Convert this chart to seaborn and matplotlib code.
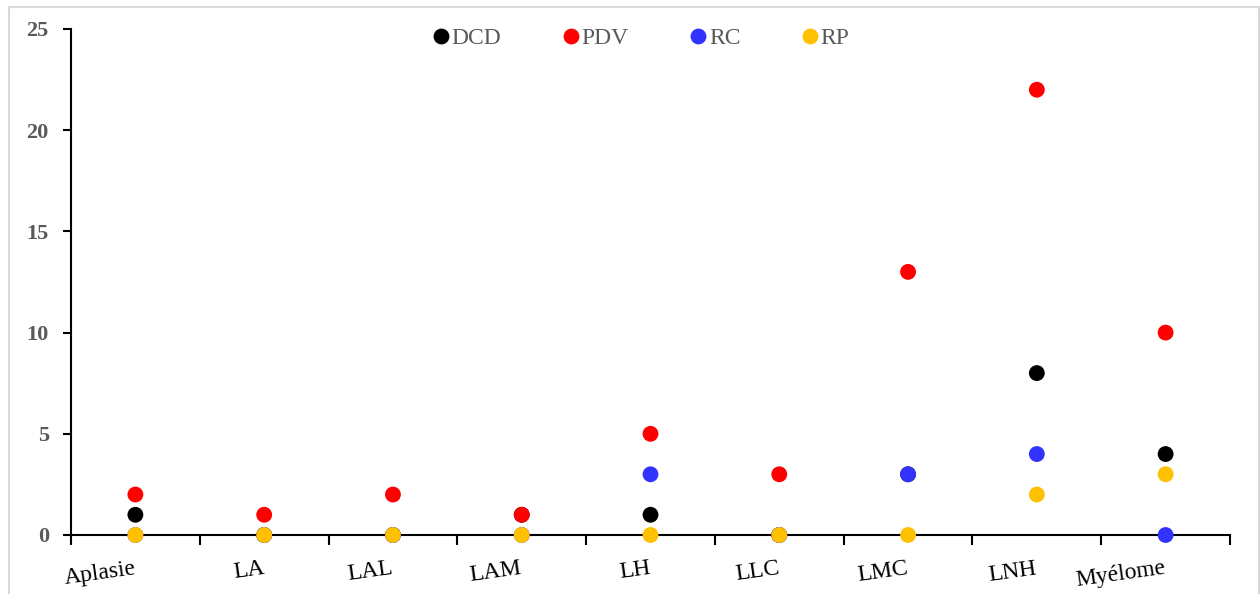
import matplotlib
matplotlib.use("Agg")
import matplotlib.pyplot as plt
import seaborn as sns
import pandas as pd
from matplotlib.patches import Rectangle
from matplotlib.ticker import FixedLocator, MultipleLocator

categories = ["Aplasie", "LA", "LAL", "LAM", "LH", "LLC", "LMC", "LNH", "Myélome"]
series = ["DCD", "PDV", "RC", "RP"]
dcd = [1, 0, 0, 1, 1, 0, 3, 8, 4]
pdv = [2, 1, 2, 1, 5, 3, 13, 22, 10]
rc = [0, 0, 0, 0, 3, 0, 3, 4, 0]
rp = [0, 0, 0, 0, 0, 0, 0, 2, 3]
colors = ["#000000", "#FF0000", "#3333FF", "#FFC000"]

rows = []
for name, vals in zip(series, [dcd, pdv, rc, rp]):
    for c, v in zip(categories, vals):
        rows.append({"cat": c, "val": v, "serie": name})
df = pd.DataFrame(rows)

sns.set_theme(style="white")
plt.rcParams["font.family"] = ["Liberation Serif", "DejaVu Serif"]

fig = plt.figure(figsize=(12.6, 5.94), dpi=100)
fig.patches.append(Rectangle((9/1260, -0.05), (1259-9)/1260, 1.05 - 7/594,
                             transform=fig.transFigure, fill=False,
                             edgecolor="#D9D9D9", linewidth=1.5))
ax = fig.add_axes([71/1260, 59/594, (1230-71)/1260, (535-29)/594])

sns.scatterplot(data=df, x="cat", y="val", hue="serie", hue_order=series,
                palette=colors, s=130, edgecolor="none", linewidth=0,
                ax=ax, zorder=3, clip_on=False)

ax.set_xlim(-0.5, len(categories) - 0.5)
ax.set_ylim(0, 25)
for s in ["top", "right"]:
    ax.spines[s].set_visible(False)
for s in ["left", "bottom"]:
    ax.spines[s].set_color("black")
    ax.spines[s].set_linewidth(1.5)

ax.yaxis.set_major_locator(MultipleLocator(5))
ax.tick_params(axis="y", direction="out", length=6, width=1.5, color="black",
               left=True, pad=10, labelsize=16, labelcolor="#595959")
for lbl in ax.get_yticklabels():
    lbl.set_fontweight("bold")

ax.xaxis.set_major_locator(FixedLocator([i - 0.5 for i in range(len(categories) + 1)]))
ax.xaxis.set_minor_locator(FixedLocator(list(range(len(categories)))))
ax.set_xticklabels([], minor=False)
ax.set_xticklabels(categories, minor=True)
ax.tick_params(axis="x", which="major", direction="out", length=7, width=1.5,
               color="black", bottom=True)
ax.tick_params(axis="x", which="minor", length=0, pad=24, labelsize=17,
               labelcolor="black", bottom=True)
for lbl in ax.get_xticklabels(minor=True):
    lbl.set_rotation(8)
    lbl.set_ha("right")
    lbl.set_va("center")
    lbl.set_rotation_mode("anchor")

ax.set_xlabel("")
ax.set_ylabel("")
ax.grid(False)

leg = ax.legend(loc="upper center", bbox_to_anchor=(0.492, 1.045), ncol=4,
                frameon=False, handlelength=0.7, handletextpad=0.1,
                columnspacing=2.6, fontsize=17, markerscale=1.0, title=None)
for t in leg.get_texts():
    t.set_color("#595959")

fig.savefig("out.png", dpi=100)
